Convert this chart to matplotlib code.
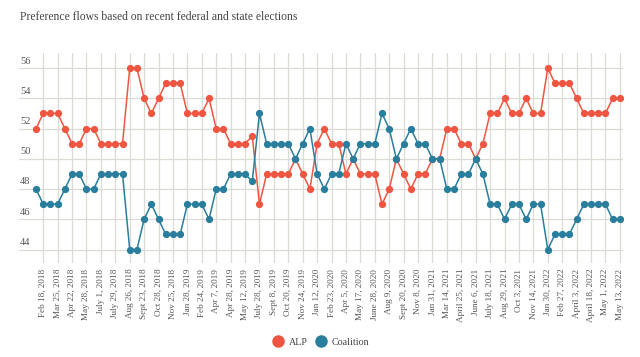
import matplotlib
matplotlib.use("Agg")
import matplotlib.pyplot as plt

# ── data ──────────────────────────────────────────────────────────────────────
# one point per poll; every second poll carries a date label
date_labels = [
    "Feb 18, 2018", "Mar 25, 2018", "Apr 22, 2018", "May 28, 2018", "July 1, 2018",
    "July 29, 2018", "Aug 26, 2018", "Sept 23, 2018", "Oct 28, 2018", "Nov 25, 2018",
    "Jan 28, 2019", "Feb 24, 2019", "Apr 7, 2019", "Apr 28, 2019", "May 12, 2019",
    "July 28, 2019", "Sept 8, 2019", "Oct 20, 2019", "Nov 24, 2019", "Jan 12, 2020",
    "Feb 23, 2020", "Apr 5, 2020", "May 17, 2020", "June 28, 2020", "Aug 9, 2020",
    "Sept 20, 2020", "Nov 8, 2020", "Jan 31, 2021", "Mar 14, 2021", "April 25, 2021",
    "June 6, 2021", "July 18, 2021", "Aug 29, 2021", "Oct 3, 2021", "Nov 14, 2021",
    "Jan 30, 2022", "Feb 27, 2022", "April 3, 2022", "April 18, 2022", "May 1, 2022",
    "May 13, 2022",
]

alp = [
    52, 53, 53, 53, 52, 51, 51, 52, 52, 51, 51, 51, 51, 56, 56, 54, 53, 54, 55, 55,
    55, 53, 53, 53, 54, 52, 52, 51, 51, 51, 51.5, 47, 49, 49, 49, 49, 50, 49, 48, 51,
    52, 51, 51, 49, 50, 49, 49, 49, 47, 48, 50, 49, 48, 49, 49, 50, 50, 52, 52, 51,
    51, 50, 51, 53, 53, 54, 53, 53, 54, 53, 53, 56, 55, 55, 55, 54, 53, 53, 53, 53,
    54, 54,
]
coalition = [
    48, 47, 47, 47, 48, 49, 49, 48, 48, 49, 49, 49, 49, 44, 44, 46, 47, 46, 45, 45,
    45, 47, 47, 47, 46, 48, 48, 49, 49, 49, 48.5, 53, 51, 51, 51, 51, 50, 51, 52, 49,
    48, 49, 49, 51, 50, 51, 51, 51, 53, 52, 50, 51, 52, 51, 51, 50, 50, 48, 48, 49,
    49, 50, 49, 47, 47, 46, 47, 47, 46, 47, 47, 44, 45, 45, 45, 46, 47, 47, 47, 47,
    46, 46,
]
y_ticks = [44, 46, 48, 50, 52, 54, 56]

# ── style ─────────────────────────────────────────────────────────────────────
RED = "#EF5641"
BLUE = "#287E9C"
GRID = "#dcdad5"
TEXT = "#555555"
plt.rcParams["font.family"] = ["Liberation Serif", "DejaVu Serif"]

x = list(range(len(alp)))
label_pos = x[1::2]

fig = plt.figure(figsize=(6.4, 3.57), dpi=100)
ax = fig.add_axes([0.0297, 0.263, 0.9433, 0.5885])

ax.plot(x, alp, color=RED, lw=1.1, marker="o", ms=4.2, mec=RED, label="ALP", zorder=3)
ax.plot(x, coalition, color=BLUE, lw=1.1, marker="o", ms=4.2, mec=BLUE,
        label="Coalition", zorder=4)

ax.set_xlim(-2.36, 81.4)
ax.set_ylim(43.1, 57.0)

ax.set_xticks(label_pos)
ax.set_xticklabels(date_labels, rotation=90, fontsize=6.6, color=TEXT)
ax.set_yticks(y_ticks)
ax.set_yticklabels([])
ax.tick_params(length=0, pad=4)
ax.grid(True, color=GRID, lw=0.9, zorder=0)
ax.set_axisbelow(True)
for s in ax.spines.values():
    s.set_visible(False)

# y labels sit on top of the gridlines, at the far left
for v in y_ticks:
    ax.text(-2.22, v + 0.17, str(v), ha="left", va="bottom", fontsize=7.5,
            color=TEXT, zorder=2)

fig.text(0.031, 0.952, "Preference flows based on recent federal and state elections",
         ha="left", va="center", fontsize=8.4, color="#444444")

handles = [
    plt.Line2D([], [], ls="none", marker="o", ms=8, color=RED, label="ALP"),
    plt.Line2D([], [], ls="none", marker="o", ms=8, color=BLUE, label="Coalition"),
]
fig.legend(handles=handles, loc="center", bbox_to_anchor=(0.502, 0.042), ncol=2,
           frameon=False, fontsize=7.2, handlelength=1.0, handletextpad=0.6,
           columnspacing=0.8, labelcolor="#444444")

fig.savefig("out.png", dpi=100)
